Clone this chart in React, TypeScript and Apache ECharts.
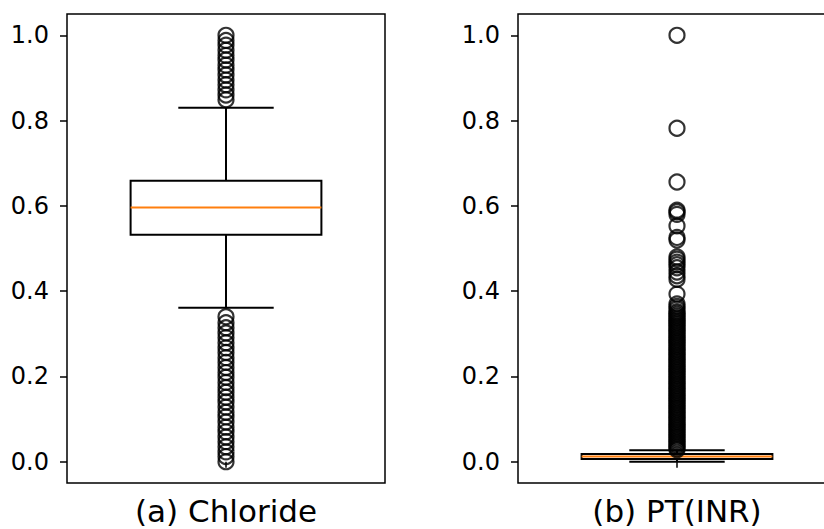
import React, { useEffect, useRef } from "react";
import * as echarts from "echarts";

const panelNames = ["(a) Chloride", "(b) PT(INR)"];
const yTicks = [0, 0.2, 0.4, 0.6, 0.8, 1.0];

// [lower whisker, Q1, median, Q3, upper whisker]
const chlorideBox = [0.361, 0.532, 0.596, 0.659, 0.83];
const ptInrBox = [0.0, 0.006, 0.012, 0.018, 0.027];

const chlorideOutliers = [
  0.0, 0.012, 0.023, 0.035, 0.047, 0.058, 0.07, 0.081, 0.093, 0.105, 0.116, 0.128,
  0.14, 0.151, 0.163, 0.174, 0.186, 0.198, 0.209, 0.221, 0.233, 0.244, 0.256, 0.267,
  0.279, 0.291, 0.302, 0.314, 0.326, 0.34,
  0.849, 0.86, 0.872, 0.884, 0.895, 0.907, 0.919, 0.93, 0.942, 0.953, 0.965, 0.977,
  0.988, 1.0,
];

const ptInrOutliers = [
  0.028, 0.032, 0.036, 0.04, 0.044, 0.048, 0.052, 0.056, 0.06, 0.064, 0.068, 0.072,
  0.076, 0.08, 0.084, 0.088, 0.092, 0.096, 0.1, 0.104, 0.108, 0.112, 0.116, 0.12,
  0.124, 0.128, 0.132, 0.136, 0.14, 0.144, 0.148, 0.152, 0.156, 0.16, 0.164, 0.168,
  0.172, 0.176, 0.18, 0.184, 0.188, 0.192, 0.196, 0.2, 0.204, 0.208, 0.212, 0.216,
  0.22, 0.224, 0.228, 0.232, 0.236, 0.24, 0.244, 0.248, 0.252, 0.256, 0.26, 0.264,
  0.268, 0.272, 0.276, 0.28, 0.284, 0.288, 0.292, 0.296, 0.3, 0.304, 0.308, 0.312,
  0.316, 0.32, 0.324, 0.328, 0.332, 0.336, 0.34, 0.344, 0.348, 0.352,
  0.358, 0.364, 0.37, 0.393, 0.428, 0.436, 0.445, 0.455, 0.462, 0.468, 0.475, 0.48,
  0.52, 0.526, 0.553, 0.58, 0.586, 0.59, 0.656, 0.782, 1.0,
];

const FONT = "DejaVu Sans";

const renderBox = (_params: any, api: any) => {
  const x = api.value(0);
  const lo = api.coord([x, api.value(1)]);
  const q1 = api.coord([x, api.value(2)]);
  const med = api.coord([x, api.value(3)]);
  const q3 = api.coord([x, api.value(4)]);
  const hi = api.coord([x, api.value(5)]);
  const halfBox = api.size([0.6, 0])[0] / 2;
  const halfCap = halfBox / 2;
  const cx = lo[0];
  const stroke = { stroke: "#000", lineWidth: 2, fill: "none" };
  return {
    type: "group",
    children: [
      { type: "line", shape: { x1: cx, y1: q3[1], x2: cx, y2: hi[1] }, style: stroke },
      { type: "line", shape: { x1: cx, y1: q1[1], x2: cx, y2: lo[1] }, style: stroke },
      { type: "line", shape: { x1: cx - halfCap, y1: hi[1], x2: cx + halfCap, y2: hi[1] }, style: stroke },
      { type: "line", shape: { x1: cx - halfCap, y1: lo[1], x2: cx + halfCap, y2: lo[1] }, style: stroke },
      {
        type: "rect",
        shape: { x: cx - halfBox, y: q3[1], width: 2 * halfBox, height: q1[1] - q3[1] },
        style: { stroke: "#000", lineWidth: 2, fill: "none" },
      },
      {
        type: "line",
        shape: { x1: cx - halfBox, y1: med[1], x2: cx + halfBox, y2: med[1] },
        style: { stroke: "#ff7f0e", lineWidth: 2 },
      },
    ],
  };
};

export default function App() {
  const ref = useRef<HTMLDivElement>(null);
  useEffect(() => {
    if (!ref.current) return;
    const chart = echarts.init(ref.current, null, { renderer: "svg" });
    const boxes = [chlorideBox, ptInrBox];
    const outliers = [chlorideOutliers, ptInrOutliers];
    const lefts = [67, 518];
    const grids = lefts.map((l) => ({
      left: l,
      top: 14,
      width: 318,
      height: 469,
      containLabel: false,
      outerBoundsMode: "none",
      show: true,
      borderColor: "#000",
      borderWidth: 1.5,
      backgroundColor: "#fff",
    }));
    const xAxes = panelNames.map((name, i) => ({
      type: "value",
      gridIndex: i,
      min: 0.5,
      max: 1.5,
      axisLine: { show: false },
      splitLine: { show: false },
      axisTick: { show: true, inside: false, length: 6, customValues: [1], lineStyle: { color: "#000", width: 1.5 } },
      axisLabel: {
        show: true,
        customValues: [1],
        formatter: () => name,
        fontFamily: FONT,
        fontSize: 31,
        lineHeight: 31,
        color: "#000",
        margin: 12,
      },
    }));
    const yAxes = panelNames.map((_n, i) => ({
      type: "value",
      gridIndex: i,
      min: -0.05,
      max: 1.05,
      axisLine: { show: false },
      splitLine: { show: false },
      axisTick: { show: true, inside: false, length: 7, customValues: yTicks, lineStyle: { color: "#000", width: 1.5 } },
      axisLabel: {
        show: true,
        customValues: yTicks,
        formatter: (v: number) => v.toFixed(1),
        fontFamily: FONT,
        fontSize: 24,
        color: "#000",
        margin: 18,
      },
    }));
    const series: any[] = [];
    boxes.forEach((b, i) => {
      series.push({
        type: "custom",
        xAxisIndex: i,
        yAxisIndex: i,
        renderItem: renderBox,
        encode: { x: 0, y: [1, 2, 3, 4, 5] },
        data: [[1, ...b]],
        z: 2,
      });
      series.push({
        type: "scatter",
        xAxisIndex: i,
        yAxisIndex: i,
        symbol: "circle",
        symbolSize: 15,
        itemStyle: { color: "rgba(0,0,0,0)", borderColor: "#000", borderWidth: 2.2 },
        data: outliers[i].map((v) => [1, v]),
        z: 3,
      });
    });
    chart.setOption({
      animation: false,
      backgroundColor: "#fff",
      grid: grids,
      xAxis: xAxes,
      yAxis: yAxes,
      series,
    });
    return () => chart.dispose();
  }, []);
  return (
    <div
      ref={ref}
      style={{ position: "absolute", left: 0, top: 0, width: 824, height: 529 }}
    />
  );
}
